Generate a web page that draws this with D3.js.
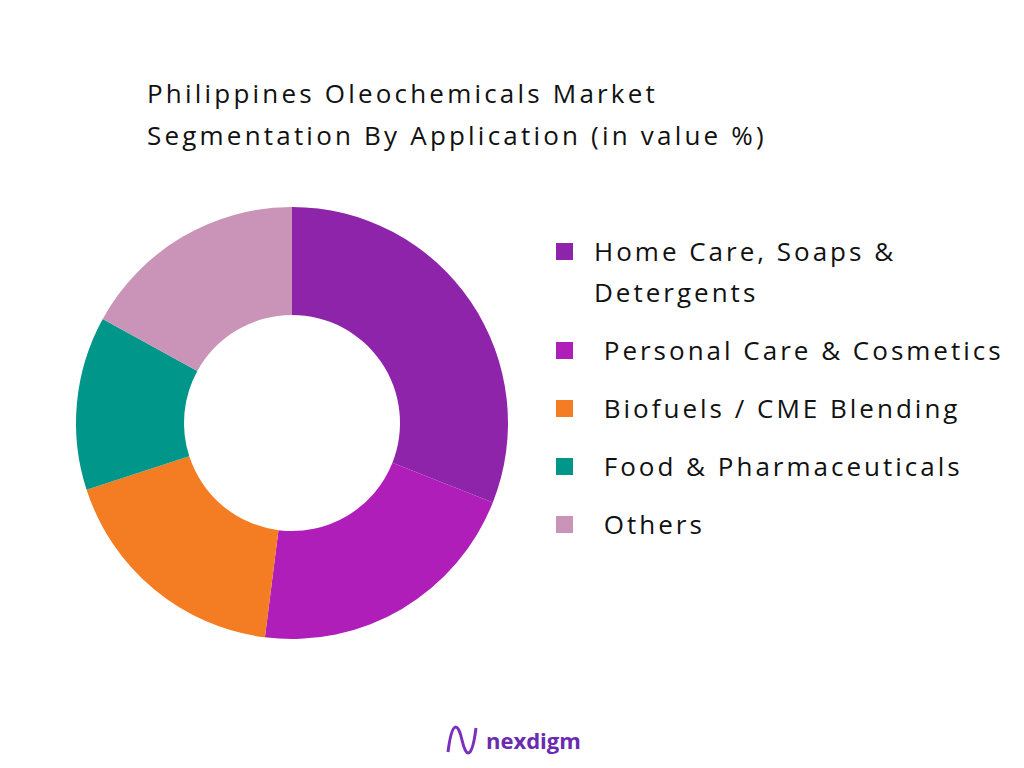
<!DOCTYPE html>
<html><head><meta charset="utf-8">
<script src="https://cdn.jsdelivr.net/npm/d3@7"></script>
<style>body{margin:0;background:#fff}</style>
</head><body>
<svg id="chart" width="1024" height="768"></svg>
<script>
const categories = ["Home Care, Soaps & Detergents", "Personal Care & Cosmetics", "Biofuels / CME Blending", "Food & Pharmaceuticals", "Others"];
const shares = [31, 21, 18, 13, 17];
const colors = ["#8E24AA", "#B01EBA", "#F47C22", "#00968A", "#C994B8"];
const legendLines = [["Home Care, Soaps &", "Detergents"], [" Personal Care & Cosmetics"], [" Biofuels / CME Blending"], [" Food & Pharmaceuticals"], [" Others"]];

const svg = d3.select("#chart");
const font = "'Open Sans', sans-serif";

// title
svg.append("text").attr("x", 147).attr("y", 103).attr("font-family", font)
  .attr("font-size", 26).attr("letter-spacing", 3.2).attr("fill", "#111").text("Philippines Oleochemicals Market");
svg.append("text").attr("x", 147).attr("y", 145).attr("font-family", font)
  .attr("font-size", 26).attr("letter-spacing", 3.2).attr("fill", "#111").text("Segmentation By Application (in value %)");

// donut
const pie = d3.pie().sort(null).value(d => d);
const arc = d3.arc().innerRadius(108).outerRadius(216);
const g = svg.append("g").attr("transform", "translate(292,423)");
g.selectAll("path").data(pie(shares)).enter().append("path")
  .attr("d", arc).attr("fill", (d, i) => colors[i]);

// legend
const ys = [252, 351, 409, 467, 525];
const lg = svg.append("g");
categories.forEach((c, i) => {
  lg.append("rect").attr("x", 556).attr("y", ys[i] - 9).attr("width", 17).attr("height", 17).attr("fill", colors[i]);
  legendLines[i].forEach((t, j) => {
    lg.append("text").attr("x", 594).attr("y", ys[i] + 9 + j * 41).attr("font-family", font)
      .attr("font-size", 26).attr("letter-spacing", 3).attr("fill", "#111").attr("xml:space", "preserve").text(t);
  });
});

// logo
svg.append("path").attr("d", "M448,752 C452,720 458,722 462,740 C466,758 472,760 476,728")
  .attr("fill", "none").attr("stroke", "#7B2FBE").attr("stroke-width", 3);
svg.append("text").attr("x", 486).attr("y", 749).attr("font-family", font).attr("font-weight", "bold")
  .attr("font-size", 22).attr("fill", "#6A2BB0").text("nexdigm");
</script>
</body></html>
